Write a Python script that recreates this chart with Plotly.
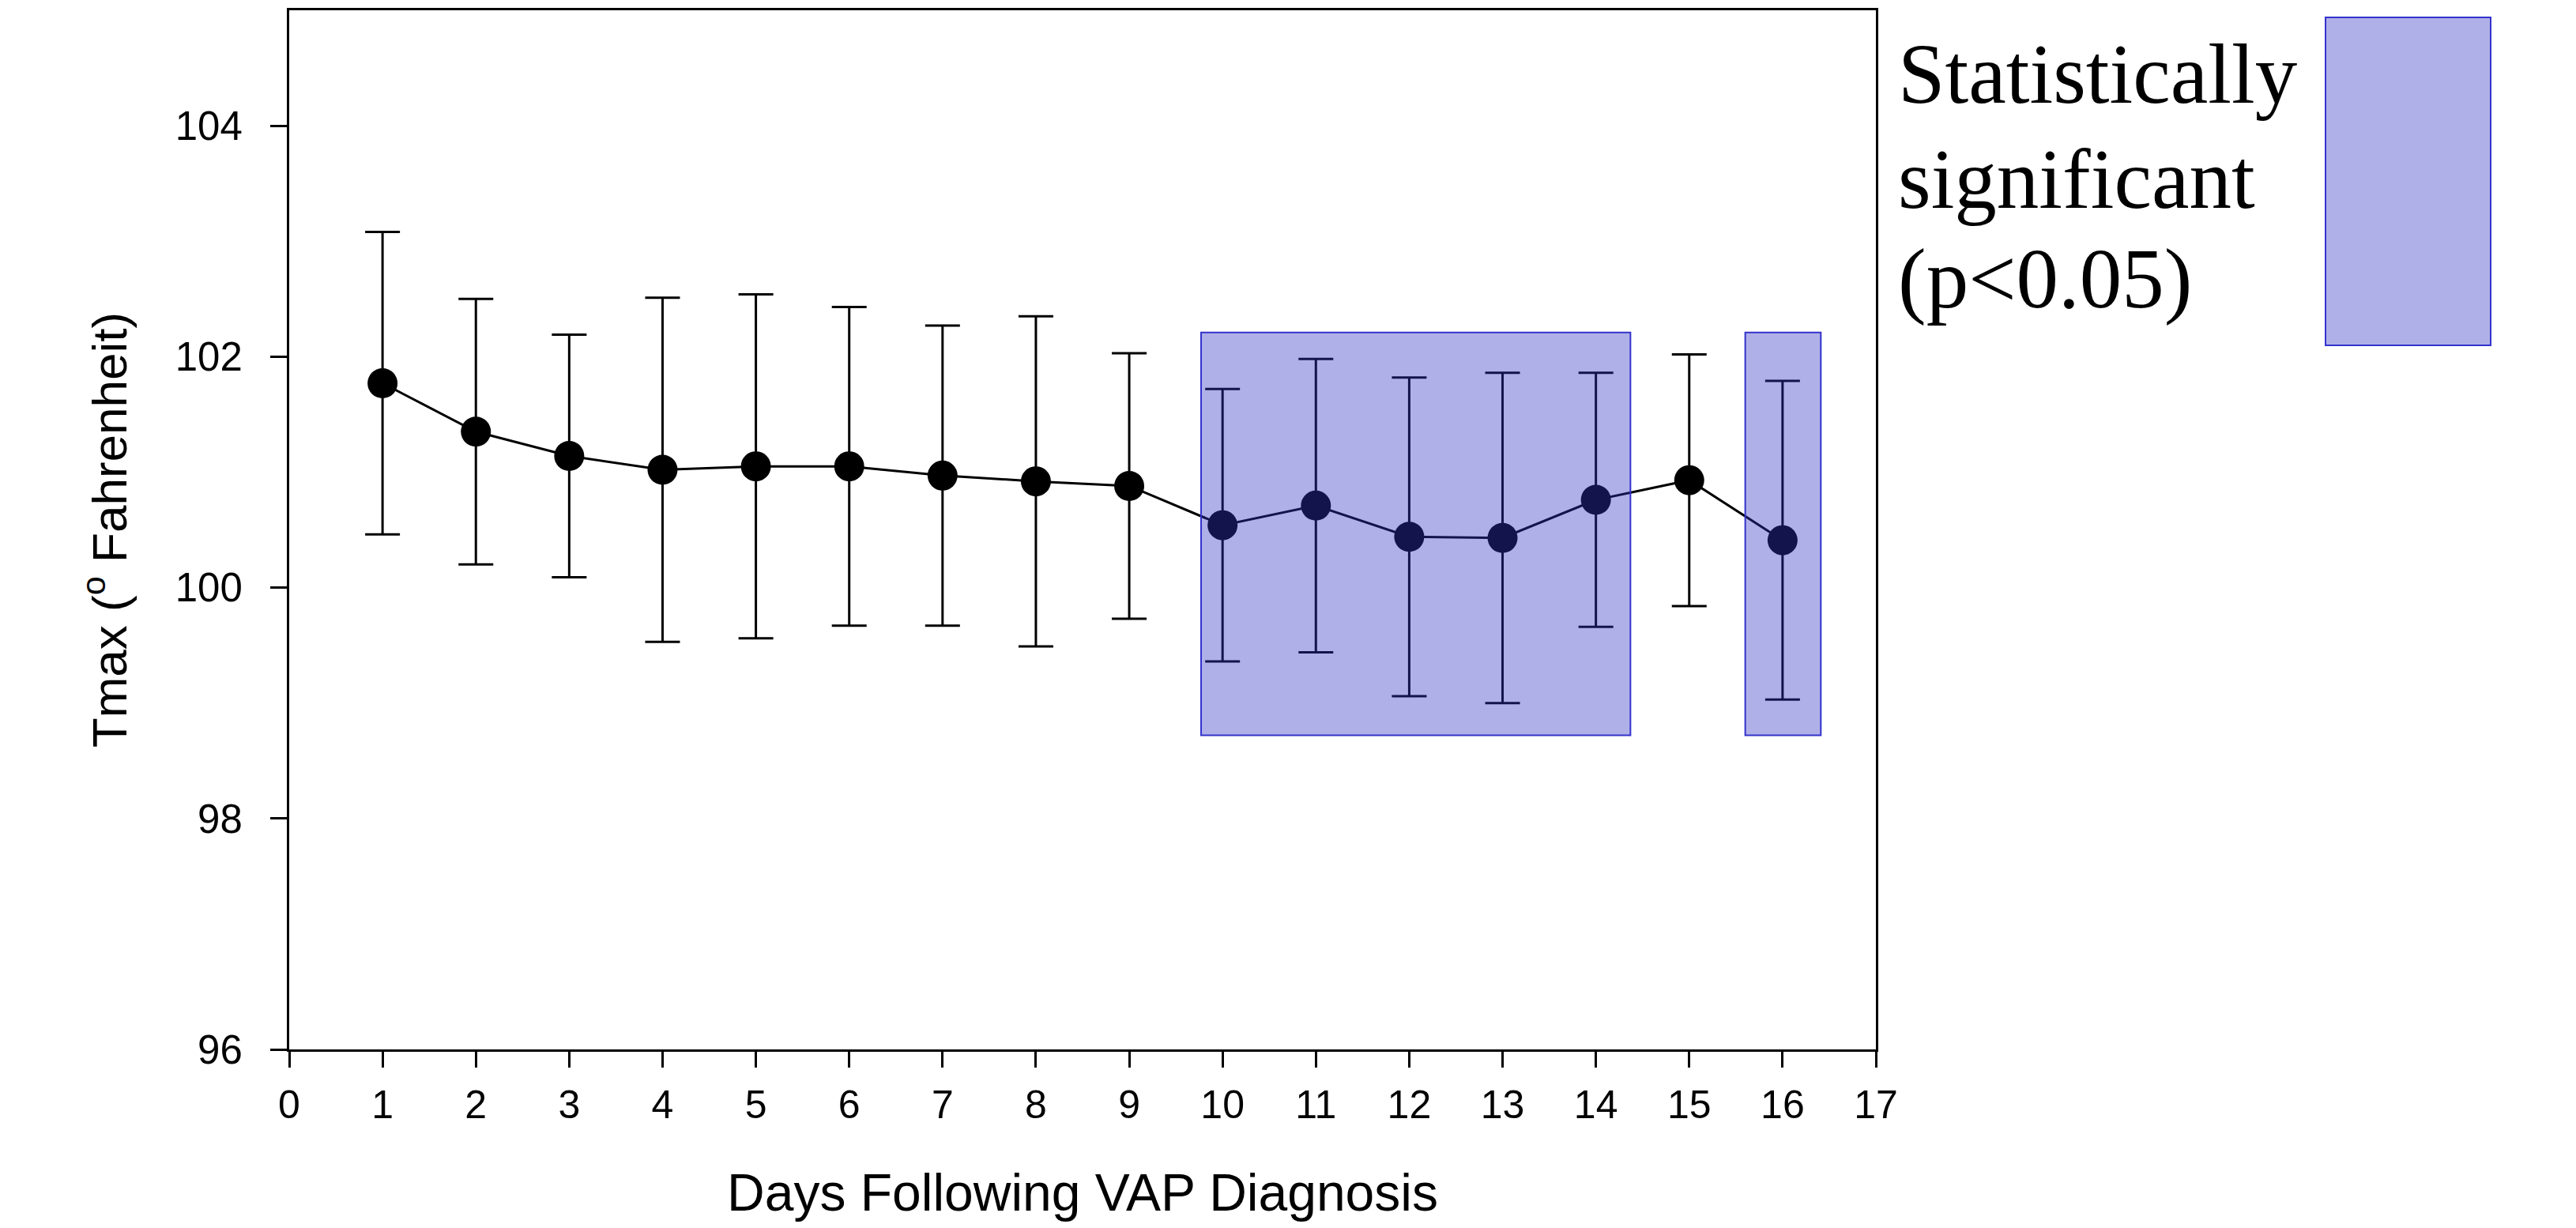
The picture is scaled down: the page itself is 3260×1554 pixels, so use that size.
import plotly.graph_objects as go

# ---- data ----
days = [1, 2, 3, 4, 5, 6, 7, 8, 9, 10, 11, 12, 13, 14, 15, 16]
tmax_mean = [101.77, 101.35, 101.14, 101.02, 101.05, 101.05, 100.97, 100.92,
             100.88, 100.54, 100.71, 100.44, 100.43, 100.76, 100.93, 100.41]
tmax_sd = [1.31, 1.15, 1.05, 1.49, 1.49, 1.38, 1.30, 1.43,
           1.15, 1.18, 1.27, 1.38, 1.43, 1.10, 1.09, 1.38]

# significant (p<0.05) day ranges highlighted with boxes
sig_x0 = [9.77, 15.60]
sig_x1 = [14.37, 16.41]
sig_y0 = [98.72, 98.72]
sig_y1 = [102.21, 102.21]

x_ticks = list(range(0, 18))
y_ticks = [96, 98, 100, 102, 104]

legend_lines = ["Statistically", "significant", "(p<0.05)"]

# ---- styles / geometry ----
OFF = 8  # page body margin
W, H = 3260 - 2 * OFF, 1554 - 2 * OFF
# plot area in page pixels
PL, PR, PT, PB = 366, 2374, 10, 1328
L = PL - OFF
R = W - (PR - OFF)
T = PT - OFF
B = H - (PB - OFF)
plot_w = PR - PL
plot_h = PB - PT
SANS = "Liberation Sans, Arial, sans-serif"
SERIF = "Liberation Serif, Times New Roman, serif"
overlay_fill = "rgba(51,51,196,0.39)"
overlay_line = "rgb(51,51,204)"


def px_to_paper_x(px):
    return (px - PL) / plot_w


def px_to_paper_y(py):
    return (PB - py) / plot_h


fig = go.Figure()
fig.add_trace(go.Scatter(
    x=days, y=tmax_mean,
    mode="lines+markers",
    line=dict(color="black", width=3),
    marker=dict(color="black", size=38),
    error_y=dict(type="data", array=tmax_sd, visible=True,
                 color="black", thickness=3, width=22),
    showlegend=False,
    hoverinfo="x+y",
))

for x0, x1, y0, y1 in zip(sig_x0, sig_x1, sig_y0, sig_y1):
    fig.add_shape(type="rect", xref="x", yref="y",
                  x0=x0, x1=x1, y0=y0, y1=y1,
                  fillcolor=overlay_fill,
                  line=dict(color=overlay_line, width=2),
                  layer="above")

# legend box (paper coordinates)
fig.add_shape(type="rect", xref="paper", yref="paper",
              x0=px_to_paper_x(2943), x1=px_to_paper_x(3152),
              y0=px_to_paper_y(435), y1=px_to_paper_y(19),
              fillcolor=overlay_fill,
              line=dict(color=overlay_line, width=2),
              layer="above")

baselines = [128, 261, 388]
fs_leg = 107
for txt, bl in zip(legend_lines, baselines):
    fig.add_annotation(
        text=txt, xref="paper", yref="paper",
        x=px_to_paper_x(2400), y=px_to_paper_y(bl - 0.34 * fs_leg),
        xanchor="left", yanchor="middle", showarrow=False,
        font=dict(family=SERIF, size=fs_leg, color="black"),
    )

fig.update_layout(
    width=W, height=H,
    margin=dict(l=L, r=R, t=T, b=B, pad=0),
    paper_bgcolor="white", plot_bgcolor="white",
    font=dict(family=SANS, color="black"),
    showlegend=False,
)

fig.update_xaxes(
    range=[0, 17], tickmode="array", tickvals=x_ticks,
    ticktext=[str(v) for v in x_ticks],
    ticks="outside", ticklen=20, tickwidth=3, tickcolor="black",
    showline=True, linecolor="black", linewidth=3, mirror=True,
    showgrid=False, zeroline=False,
    tickfont=dict(family=SANS, size=50, color="black"),
    ticklabelstandoff=4,
    title=dict(text="Days Following VAP Diagnosis",
               font=dict(family=SANS, size=66, color="black"), standoff=62),
)
fig.update_yaxes(
    range=[96, 105], tickmode="array", tickvals=y_ticks,
    ticktext=[str(v) for v in y_ticks],
    ticks="outside", ticklen=21, tickwidth=3, tickcolor="black",
    showline=True, linecolor="black", linewidth=3, mirror=True,
    showgrid=False, zeroline=False,
    tickfont=dict(family=SANS, size=51, color="black"),
    ticklabelstandoff=25,
    title=dict(text="Tmax (<sup>o</sup> Fahrenheit)",
               font=dict(family=SANS, size=62, color="black"), standoff=42),
)

fig.write_html("out.html")
